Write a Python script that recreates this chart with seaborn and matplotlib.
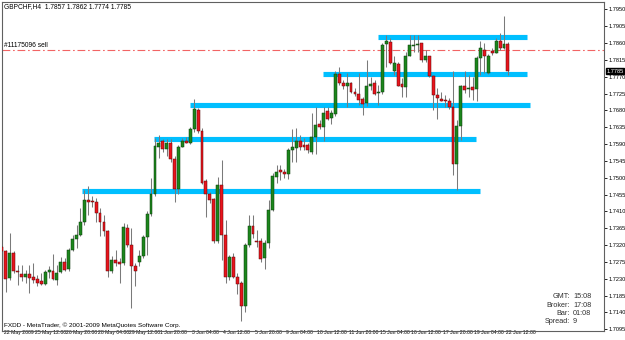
import numpy as np
import pandas as pd
import matplotlib
matplotlib.use("Agg")
import matplotlib.pyplot as plt
import matplotlib.transforms as mtransforms
import seaborn as sns

sns.set_style("white")
plt.rcParams['font.family'] = ['Liberation Sans Narrow', 'Liberation Sans', 'DejaVu Sans']

# ---------------- data (GBPCHF, H4) ----------------
opens = [1.7316, 1.7303, 1.7232, 1.7299, 1.7251, 1.7243, 1.7236, 1.7243, 1.7235, 1.7229,
         1.7223, 1.7217, 1.7247, 1.7251, 1.7227, 1.7247, 1.7275, 1.7256, 1.7308, 1.7336,
         1.7348, 1.7383, 1.7441, 1.7438, 1.7435, 1.7405, 1.7383, 1.7358, 1.7250, 1.7281,
         1.7274, 1.7272, 1.7365, 1.7319, 1.7265, 1.7274, 1.7290, 1.7341, 1.7404, 1.7457,
         1.7583, 1.7597, 1.7576, 1.7594, 1.7550, 1.7470, 1.7583, 1.7599, 1.7594, 1.7630,
         1.7681, 1.7625, 1.7490, 1.7457, 1.7443, 1.7330, 1.7481, 1.7348, 1.7235, 1.7288,
         1.7235, 1.7219, 1.7158, 1.7321, 1.7370, 1.7332, 1.7332, 1.7285, 1.7325, 1.7414,
         1.7503, 1.7521, 1.7516, 1.7510, 1.7575, 1.7579, 1.7599, 1.7588, 1.7588, 1.7570,
         1.7610, 1.7643, 1.7635, 1.7677, 1.7659, 1.7671, 1.7777, 1.7754, 1.7744, 1.7754,
         1.7730, 1.7724, 1.7710, 1.7699, 1.7746, 1.7754, 1.7726, 1.7728, 1.7857, 1.7862,
         1.7784, 1.7804, 1.7751, 1.7742, 1.7826, 1.7852, 1.7854, 1.7859, 1.7815, 1.7824,
         1.7772, 1.7721, 1.7711, 1.7708, 1.7706, 1.7688, 1.7537, 1.7637, 1.7744, 1.7737,
         1.7742, 1.7737, 1.7819, 1.7842, 1.7781, 1.7839, 1.7834, 1.7864, 1.7846, 1.7857]
highs = [1.7321, 1.7308, 1.7352, 1.7303, 1.7268, 1.7268, 1.7254, 1.7268, 1.7272, 1.7241,
         1.7245, 1.7254, 1.7263, 1.7297, 1.7268, 1.7288, 1.7285, 1.7312, 1.7348, 1.7374,
         1.7419, 1.7468, 1.7477, 1.7450, 1.7446, 1.7419, 1.7401, 1.7361, 1.7290, 1.7308,
         1.7285, 1.7379, 1.7377, 1.7365, 1.7272, 1.7308, 1.7348, 1.7410, 1.7499, 1.7606,
         1.7615, 1.7603, 1.7603, 1.7603, 1.7557, 1.7588, 1.7606, 1.7608, 1.7635, 1.7710,
         1.7686, 1.7632, 1.7496, 1.7463, 1.7446, 1.7503, 1.7548, 1.7388, 1.7294, 1.7299,
         1.7245, 1.7223, 1.7325, 1.7401, 1.7401, 1.7361, 1.7339, 1.7334, 1.7441, 1.7512,
         1.7535, 1.7535, 1.7523, 1.7579, 1.7630, 1.7632, 1.7615, 1.7606, 1.7592, 1.7672,
         1.7690, 1.7655, 1.7690, 1.7690, 1.7681, 1.7784, 1.7797, 1.7761, 1.7779, 1.7757,
         1.7739, 1.7779, 1.7717, 1.7815, 1.7770, 1.7761, 1.7748, 1.7859, 1.7882, 1.7873,
         1.7824, 1.7810, 1.7766, 1.7837, 1.7882, 1.7882, 1.7882, 1.7861, 1.7842, 1.7826,
         1.7775, 1.7739, 1.7730, 1.7721, 1.7713, 1.7784, 1.7655, 1.7748, 1.7784, 1.7775,
         1.7770, 1.7824, 1.7866, 1.7861, 1.7831, 1.7846, 1.7873, 1.7888, 1.7931, 1.7862]
lows = [1.7299, 1.7196, 1.7227, 1.7245, 1.7214, 1.7223, 1.7219, 1.7192, 1.7219, 1.7210,
        1.7214, 1.7214, 1.7232, 1.7227, 1.7214, 1.7245, 1.7250, 1.7252, 1.7305, 1.7312,
        1.7345, 1.7374, 1.7401, 1.7423, 1.7383, 1.7343, 1.7345, 1.7236, 1.7245, 1.7263,
        1.7220, 1.7268, 1.7316, 1.7152, 1.7210, 1.7263, 1.7285, 1.7294, 1.7398, 1.7452,
        1.7552, 1.7570, 1.7557, 1.7543, 1.7434, 1.7457, 1.7582, 1.7592, 1.7591, 1.7621,
        1.7619, 1.7484, 1.7395, 1.7432, 1.7325, 1.7325, 1.7281, 1.7220, 1.7227, 1.7232,
        1.7190, 1.7116, 1.7140, 1.7316, 1.7339, 1.7316, 1.7276, 1.7256, 1.7312, 1.7410,
        1.7487, 1.7493, 1.7499, 1.7496, 1.7543, 1.7543, 1.7575, 1.7575, 1.7567, 1.7564,
        1.7564, 1.7630, 1.7597, 1.7653, 1.7644, 1.7665, 1.7748, 1.7737, 1.7690, 1.7726,
        1.7719, 1.7695, 1.7668, 1.7692, 1.7735, 1.7721, 1.7695, 1.7724, 1.7797, 1.7804,
        1.7775, 1.7744, 1.7715, 1.7715, 1.7824, 1.7837, 1.7837, 1.7810, 1.7810, 1.7770,
        1.7681, 1.7656, 1.7704, 1.7690, 1.7683, 1.7508, 1.7468, 1.7601, 1.7726, 1.7717,
        1.7708, 1.7706, 1.7775, 1.7779, 1.7777, 1.7828, 1.7833, 1.7842, 1.7843, 1.7774]
closes = [1.7305, 1.7229, 1.7299, 1.7250, 1.7247, 1.7236, 1.7243, 1.7232, 1.7227, 1.7220,
          1.7216, 1.7248, 1.7254, 1.7230, 1.7245, 1.7276, 1.7254, 1.7308, 1.7337, 1.7348,
          1.7383, 1.7441, 1.7436, 1.7435, 1.7405, 1.7381, 1.7357, 1.7250, 1.7281, 1.7272,
          1.7269, 1.7368, 1.7321, 1.7265, 1.7252, 1.7290, 1.7341, 1.7404, 1.7457, 1.7585,
          1.7594, 1.7576, 1.7594, 1.7550, 1.7470, 1.7583, 1.7597, 1.7594, 1.7630, 1.7683,
          1.7624, 1.7487, 1.7457, 1.7441, 1.7330, 1.7481, 1.7348, 1.7235, 1.7288, 1.7235,
          1.7217, 1.7158, 1.7321, 1.7370, 1.7350, 1.7327, 1.7283, 1.7325, 1.7414, 1.7505,
          1.7515, 1.7516, 1.7510, 1.7575, 1.7582, 1.7597, 1.7582, 1.7583, 1.7573, 1.7610,
          1.7641, 1.7635, 1.7672, 1.7657, 1.7672, 1.7777, 1.7754, 1.7744, 1.7754, 1.7728,
          1.7724, 1.7708, 1.7697, 1.7745, 1.7750, 1.7724, 1.7730, 1.7855, 1.7864, 1.7806,
          1.7806, 1.7745, 1.7742, 1.7826, 1.7855, 1.7855, 1.7858, 1.7815, 1.7824, 1.7772,
          1.7721, 1.7713, 1.7706, 1.7704, 1.7688, 1.7537, 1.7637, 1.7744, 1.7735, 1.7739,
          1.7735, 1.7819, 1.7846, 1.7824, 1.7826, 1.7833, 1.7864, 1.7846, 1.7858, 1.7785]

# support / resistance levels: price, start bar, end bar
level_prices = [1.7464, 1.7603, 1.7695, 1.7777, 1.7875]
level_start = [20.5, 38.8, 48.0, 81.9, 95.9]
level_end = [121.9, 120.9, 134.6, 133.9, 133.9]

order_price = 1.7842
order_label = "#11175096 sell"
last_price = 1.7785

y_ticks = [1.7095, 1.7140, 1.7185, 1.7230, 1.7275, 1.7320, 1.7365, 1.7410, 1.7455, 1.7500,
           1.7545, 1.7590, 1.7635, 1.7680, 1.7725, 1.7770, 1.7815, 1.7860, 1.7905, 1.7950]
x_tick_bars = [0, 8, 16, 24, 32, 40, 48, 56, 64, 72, 80, 88, 96, 104, 112, 120, 128]
x_tick_labels = ["22 May 2009", "25 May 12:00", "26 May 20:00", "28 May 04:00", "29 May 12:00",
                 "1 Jun 20:00", "3 Jun 04:00", "4 Jun 12:00", "5 Jun 20:00", "9 Jun 04:00",
                 "10 Jun 12:00", "11 Jun 20:00", "15 Jun 04:00", "16 Jun 12:00", "17 Jun 20:00",
                 "19 Jun 04:00", "22 Jun 12:00"]

header = "GBPCHF,H4  1.7857 1.7862 1.7774 1.7785"
footer = "FXDD - MetaTrader, \u00a9 2001-2009 MetaQuotes Software Corp."
info_keys = ["GMT:", "Broker:", "Bar:", "Spread:"]
info_vals = ["15:08", "17:08", "01:08", "9"]

df = pd.DataFrame({"open": opens, "high": highs, "low": lows, "close": closes})
df["bar"] = np.arange(len(df))
df["up"] = df["close"] >= df["open"]

# ---------------- figure ----------------
fig = plt.figure(figsize=(6.25, 3.4), dpi=100)
ax = fig.add_axes([2 / 625, 9.5 / 340, 602 / 625, 328.5 / 340])
ax.set_facecolor("white")

# levels
for p, s, e in zip(level_prices, level_start, level_end):
    ax.hlines(p, s, e, color="#00bfff", lw=3.7, zorder=1)

# order line
ax.axhline(order_price, color="#f26464", lw=0.8, ls=(0, (7, 2.5, 1.5, 2.5)), zorder=1.5)

# wicks
ax.vlines(df["bar"], df["low"], df["high"], color="#7a7a7a", lw=0.75, zorder=2)

# bodies
body_bottom = df[["open", "close"]].min(axis=1)
body_h = (df["close"] - df["open"]).abs().clip(lower=0.00006)
up = df["up"]
ax.bar(df["bar"][up], body_h[up], bottom=body_bottom[up], width=0.74,
       color="#1c861c", edgecolor="#0b3a0b", linewidth=0.35, zorder=3)
ax.bar(df["bar"][~up], body_h[~up], bottom=body_bottom[~up], width=0.74,
       color="#e8141c", edgecolor="#5a0808", linewidth=0.35, zorder=3)

ax.set_xlim(0.076, 153.5)
ax.set_ylim(1.70918, 1.79695)

# axes styling
for sp in ax.spines.values():
    sp.set_color("#606060")
    sp.set_linewidth(0.8)
ax.yaxis.tick_right()
ax.set_yticks(y_ticks)
ax.set_yticklabels([f"{v:.4f}" for v in y_ticks])
ax.tick_params(axis="y", length=2, width=0.6, pad=1.0, labelsize=4.1, colors="black")
ax.set_xticks(x_tick_bars)
ax.set_xticklabels(x_tick_labels, ha="left")
ax.tick_params(axis="x", length=4, width=0.5, pad=-4.2, labelsize=3.7, colors="black")
shift = mtransforms.ScaledTranslation(1.6 / 100, 0, fig.dpi_scale_trans)
for lbl in ax.get_xticklabels():
    lbl.set_transform(lbl.get_transform() + shift)
ax.grid(False)

# texts
ax.text(0.003, 0.997, header, transform=ax.transAxes, ha="left", va="top",
        fontsize=4.8, color="black")
trans = mtransforms.blended_transform_factory(ax.transAxes, ax.transData)
ax.text(0.003, order_price + 0.00015, order_label, transform=trans, ha="left", va="bottom",
        fontsize=4.8, color="black")
ax.text(0.003, 0.015, footer, transform=ax.transAxes, ha="left", va="center",
        fontsize=4.6, color="black")
for k, (key, val) in enumerate(zip(info_keys, info_vals)):
    yy = 0.1033 - k * 0.0258
    ax.text(0.9435, yy, key, transform=ax.transAxes, ha="right", va="center",
            fontsize=5.2, color="#303030")
    ax.text(0.9485, yy, val, transform=ax.transAxes, ha="left", va="center",
            fontsize=5.2, color="#303030")

# last price marker on right axis
ax.text(1.004, last_price, f"{last_price:.4f}", transform=trans, ha="left", va="center",
        fontsize=4.1, color="white", zorder=10, clip_on=False,
        bbox=dict(boxstyle="square,pad=0.12", facecolor="black", edgecolor="black"))

fig.savefig("out.png", dpi=100, facecolor="white")
